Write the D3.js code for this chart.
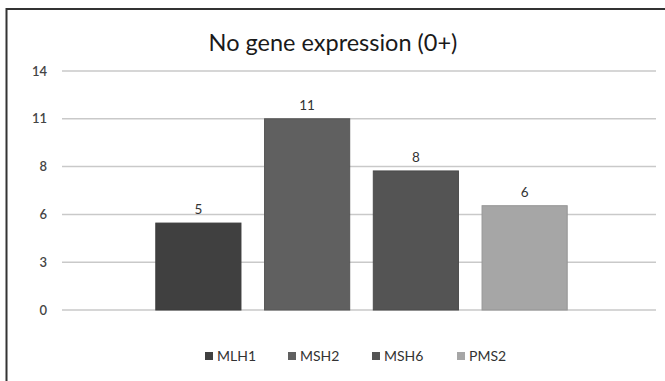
<!DOCTYPE html>
<html>
<head>
<meta charset="utf-8">
<script src="https://cdn.jsdelivr.net/npm/d3@7"></script>
<style>
  body { margin: 0; background: #fff; }
  svg { display: block; font-family: Lato, "Open Sans", sans-serif; }
</style>
</head>
<body>
<div id="chart"></div>
<script>
const genes = ["MLH1", "MSH2", "MSH6", "PMS2"];
const counts = [5, 11, 8, 6];
const colors = ["#404040", "#606060", "#545454", "#a6a6a6"];
const tickValues = [0, 2.75, 5.5, 8.25, 11, 13.75];
const tickLabels = ["0", "3", "6", "8", "11", "14"];

const data = genes.map((g, i) => ({ gene: g, value: counts[i], color: colors[i] }));

const width = 665, height = 381;

const svg = d3.select("#chart")
    .append("svg")
    .attr("width", width)
    .attr("height", height);

// frame (only top and left edges show in the crop)
svg.append("path")
    .attr("d", `M6.5,${height} V9 H${width}`)
    .attr("fill", "none")
    .attr("stroke", "#333")
    .attr("stroke-width", 2);

const y = d3.scaleLinear()
    .domain([0, 13.75])
    .range([310, 71]);

const x = d3.scaleBand()
    .domain(genes)
    .range([144, 579])
    .paddingInner(0.217)
    .paddingOuter(0.1085);

// gridlines
svg.selectAll(".grid")
    .data(tickValues)
    .enter()
    .append("line")
    .attr("class", "grid")
    .attr("x1", 62)
    .attr("x2", 656)
    .attr("y1", d => y(d))
    .attr("y2", d => y(d))
    .attr("stroke", "#c9c9c9")
    .attr("stroke-width", 1.5);

// y tick labels
svg.selectAll(".ytick")
    .data(tickValues)
    .enter()
    .append("text")
    .attr("class", "ytick")
    .attr("x", 47)
    .attr("y", d => y(d))
    .attr("dy", "0.35em")
    .attr("text-anchor", "end")
    .style("font-size", "13px")
    .style("font-weight", 600)
    .style("fill", "#444")
    .text((d, i) => tickLabels[i]);

svg.selectAll(".bar")
    .data(data)
    .enter()
    .append("rect")
    .attr("class", "bar")
    .attr("x", d => x(d.gene))
    .attr("y", d => y(d.value))
    .attr("width", x.bandwidth())
    .attr("height", d => y(0) - y(d.value))
    .attr("fill", d => d.color)
    .attr("stroke", d => d3.color(d.color).darker(0.3))
    .attr("stroke-width", 1);

svg.selectAll(".vlabel")
    .data(data)
    .enter()
    .append("text")
    .attr("class", "vlabel")
    .attr("x", d => x(d.gene) + x.bandwidth() / 2)
    .attr("y", d => y(d.value) - 9)
    .attr("text-anchor", "middle")
    .style("font-size", "13.5px")
    .style("fill", "#333")
    .text(d => d.value);

svg.append("text")
    .attr("x", 333)
    .attr("y", 51)
    .attr("text-anchor", "middle")
    .style("font-size", "23.5px")
    .style("fill", "#1a1a1a")
    .text("No gene expression (0+)");

// legend
const legendX = [205, 288, 372, 457];
const legend = svg.selectAll(".legend")
    .data(data)
    .enter()
    .append("g")
    .attr("class", "legend")
    .attr("transform", (d, i) => `translate(${legendX[i]},356)`);

legend.append("rect")
    .attr("x", 0)
    .attr("y", -4)
    .attr("width", 8)
    .attr("height", 8)
    .attr("fill", d => d.color);

legend.append("text")
    .attr("x", 12)
    .attr("dy", "0.35em")
    .style("font-size", "14px")
    .style("fill", "#333")
    .text(d => d.gene);
</script>
</body>
</html>
